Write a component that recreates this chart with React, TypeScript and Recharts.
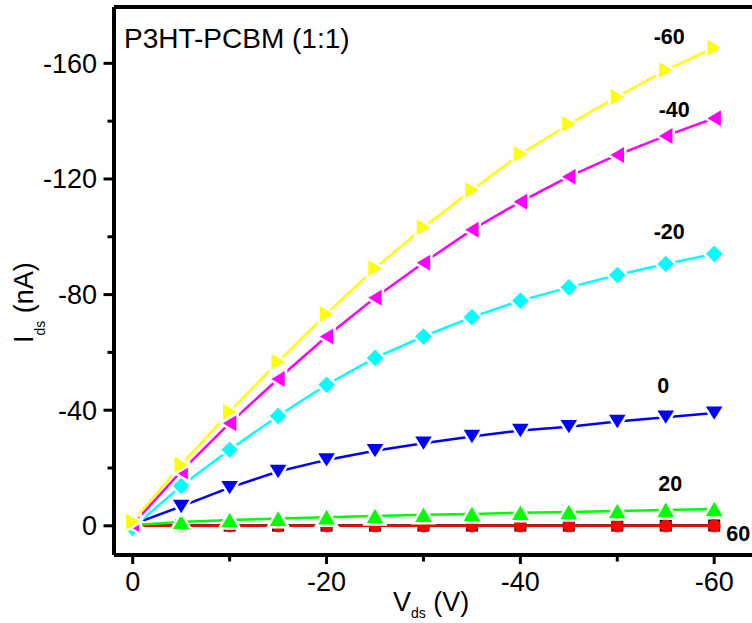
import { LineChart, Line, XAxis, YAxis, ReferenceLine } from "recharts"

// drain voltage (V)
const vds = [0, -5, -10, -15, -20, -25, -30, -35, -40, -45, -50, -55, -60]

// drain current (nA) for each gate voltage
const ids_vgm60 = [-1.5, -21.1, -39.5, -56.8, -73.3, -89.1, -103.3, -116.2, -128.6, -139.0, -148.4, -157.7, -165.4]
const ids_vgm40 = [-0.5, -18.8, -35.5, -50.8, -65.5, -78.9, -91.0, -102.4, -112.1, -120.8, -128.3, -134.9, -141.0]
const ids_vgm20 = [0.7, -13.8, -26.3, -38.0, -48.8, -58.1, -65.5, -72.2, -77.9, -82.5, -86.8, -90.6, -94.1]
const ids_vg0 = [-0.5, -6.7, -13.2, -18.8, -22.8, -26.0, -28.6, -30.9, -33.0, -34.3, -36.1, -37.6, -39.0]
const ids_vg20 = [-0.3, -1.3, -2.0, -2.5, -3.0, -3.4, -3.8, -4.1, -4.5, -4.8, -5.1, -5.5, -5.8]
const ids_vg40 = [0, -0.1, -0.1, -0.1, -0.1, -0.1, -0.1, -0.1, -0.1, -0.1, -0.1, -0.1, -0.1]
const ids_vg60 = [0, 0, 0, 0, 0, 0, 0, 0, 0, 0, 0, 0, 0]

const xTicks = [0, -10, -20, -30, -40, -50, -60]
const yTicks = [0, -20, -40, -60, -80, -100, -120, -140, -160]

const rows = vds.map((v, i) => ({
  vds: v,
  vgm60: ids_vgm60[i],
  vgm40: ids_vgm40[i],
  vgm20: ids_vgm20[i],
  vg0: ids_vg0[i],
  vg20: ids_vg20[i],
  vg40: ids_vg40[i],
  vg60: ids_vg60[i],
}))

const FONT = "'Liberation Sans', Arial, sans-serif"

// drawn back to front
const series = [
  { key: "vg40", color: "#000000", shape: "square", label: "", dx: 0, dy: 0, halo: false },
  { key: "vg60", color: "#ff0000", shape: "circle", label: "60", dx: 24, dy: 15, halo: false },
  { key: "vg20", color: "#00ff00", shape: "up", label: "20", dx: -44, dy: -18, halo: true },
  { key: "vg0", color: "#0000ff", shape: "down", label: "0", dx: -51, dy: -20, halo: true },
  { key: "vgm20", color: "#00ffff", shape: "diamond", label: "-20", dx: -45, dy: -15, halo: true },
  { key: "vgm40", color: "#ff00ff", shape: "left", label: "-40", dx: -40, dy: -1, halo: true },
  { key: "vgm60", color: "#ffff00", shape: "right", label: "-60", dx: -45, dy: -4, halo: true },
]

function markerPath(shape: string, cx: number, cy: number) {
  switch (shape) {
    case "right":
      return `M${cx - 6.7},${cy - 8} L${cx + 6.7},${cy} L${cx - 6.7},${cy + 8} Z`
    case "left":
      return `M${cx + 6.7},${cy - 8} L${cx - 6.7},${cy} L${cx + 6.7},${cy + 8} Z`
    case "up":
      return `M${cx - 8.3},${cy + 7.3} L${cx},${cy - 7.3} L${cx + 8.3},${cy + 7.3} Z`
    case "down":
      return `M${cx - 8.3},${cy - 6.7} L${cx},${cy + 6.7} L${cx + 8.3},${cy - 6.7} Z`
    case "diamond":
      return `M${cx},${cy - 8.3} L${cx + 8.3},${cy} L${cx},${cy + 8.3} L${cx - 8.3},${cy} Z`
    case "square":
      return `M${cx - 6},${cy - 6} h12 v12 h-12 Z`
    default:
      return ""
  }
}

function makeDot(s: any) {
  return (p: any) => {
    const { cx, cy, index } = p
    if (cx == null || cy == null) return <g key={`d-${s.key}-${index}`} />
    const haloProps = s.halo
      ? { stroke: "#ffffff", strokeWidth: 5, paintOrder: "stroke" as any }
      : { stroke: "none" }
    return (
      <g key={`d-${s.key}-${index}`}>
        {s.shape === "circle" ? (
          <circle cx={cx} cy={cy} r={6.5} fill={s.color} {...haloProps} />
        ) : (
          <path d={markerPath(s.shape, cx, cy)} fill={s.color} {...haloProps} />
        )}
        {index === vds.length - 1 && s.label ? (
          <text
            x={cx + s.dx}
            y={cy + s.dy}
            textAnchor="middle"
            fontFamily={FONT}
            fontWeight="bold"
            fontSize={21.5}
            fill="#000"
          >
            {s.label}
          </text>
        ) : null}
      </g>
    )
  }
}

function YTick(props: any) {
  const { x, y, payload } = props
  const v = payload.value
  const major = v % 40 === 0
  return (
    <g>
      <line x1={x - (major ? 10.5 : 6.5)} x2={x} y1={y} y2={y} stroke="#000" strokeWidth={3} />
      {major ? (
        <text x={x - 17} y={y + 9.5} textAnchor="end" fontFamily={FONT} fontSize={27} fill="#000">
          {v}
        </text>
      ) : null}
    </g>
  )
}

function XTick(props: any) {
  const { x, y, payload } = props
  const v = payload.value
  const major = v % 20 === 0
  return (
    <g>
      <line x1={x} x2={x} y1={y} y2={y + (major ? 9 : 6.5)} stroke="#000" strokeWidth={3} />
      {major ? (
        <text x={x} y={y + 36} textAnchor="middle" fontFamily={FONT} fontSize={27} fill="#000">
          {v}
        </text>
      ) : null}
    </g>
  )
}

export default function App() {
  return (
    <div style={{ position: "relative", width: 752, height: 623, background: "#fff" }}>
      <style>{`body{margin:0}`}</style>
      <LineChart width={752} height={623} data={rows} margin={{ top: 7, right: 0, bottom: 0, left: 0 }}>
        <XAxis
          dataKey="vds"
          type="number"
          domain={[-63.9, 1.93]}
          reversed
          ticks={xTicks}
          interval={0}
          height={68}
          tickSize={0}
          tickMargin={0}
          tickLine={false}
          axisLine={{ stroke: "#000", strokeWidth: 4 }}
          tick={<XTick />}
        />
        <YAxis
          type="number"
          domain={[-179.5, 10.1]}
          reversed
          ticks={yTicks}
          interval={0}
          width={114}
          tickSize={0}
          tickMargin={0}
          tickLine={false}
          axisLine={{ stroke: "#000", strokeWidth: 4 }}
          tick={<YTick />}
          allowDataOverflow
        />
        <ReferenceLine y={-179.5} stroke="#000" strokeWidth={4} />
        {series.map((s) => (
          <Line
            key={s.key}
            dataKey={s.key}
            type="linear"
            stroke={s.color}
            strokeWidth={2.5}
            dot={makeDot(s)}
            activeDot={false}
            isAnimationActive={false}
          />
        ))}
      </LineChart>
      <svg
        width={752}
        height={623}
        style={{ position: "absolute", left: 0, top: 0, pointerEvents: "none" }}
      >
        <text x={124} y={48} fontFamily={FONT} fontSize={28} fill="#000">
          P3HT-PCBM (1:1)
        </text>
        <text x={393} y={611} fontFamily={FONT} fontSize={27} fill="#000">
          V<tspan fontSize={14} dy={7}>ds</tspan>
          <tspan dy={-7}> (V)</tspan>
        </text>
        <text x={33} y={343} transform="rotate(-90, 33, 343)" fontFamily={FONT} fontSize={27} fill="#000">
          I<tspan fontSize={14} dy={12}>ds</tspan>
          <tspan dy={-12}> (nA)</tspan>
        </text>
      </svg>
    </div>
  )
}
